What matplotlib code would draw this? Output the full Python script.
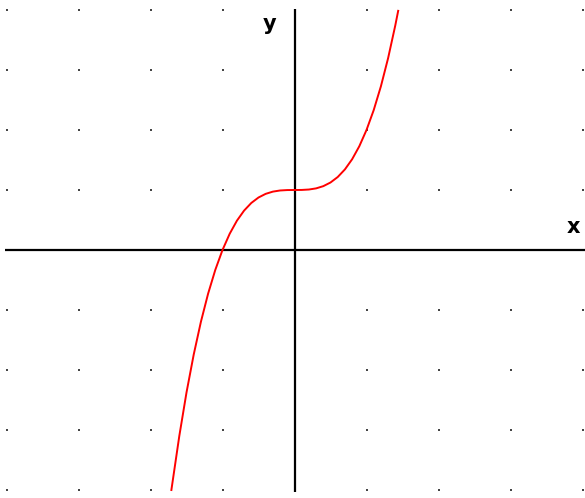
import matplotlib
matplotlib.use("Agg")
import matplotlib.pyplot as plt
import numpy as np

# points
curve_x = [-1.71, -1.6, -1.5, -1.4, -1.3, -1.2, -1.1, -1.0, -0.9, -0.8, -0.7,
           -0.6, -0.5, -0.4, -0.3, -0.2, -0.1, 0.0, 0.1, 0.2, 0.3, 0.4, 0.5,
           0.6, 0.7, 0.8, 0.9, 1.0, 1.1, 1.2, 1.3, 1.4, 1.44]
curve_y = [-4.0, -3.1, -2.375, -1.744, -1.197, -0.728, -0.331, 0.0, 0.271,
           0.488, 0.657, 0.784, 0.875, 0.936, 0.973, 0.992, 0.999, 1.0, 1.001,
           1.008, 1.027, 1.064, 1.125, 1.216, 1.343, 1.512, 1.729, 2.0, 2.331,
           2.728, 3.197, 3.744, 3.986]

# dot grid
grid_x = [-4, -3, -2, -1, 0, 1, 2, 3, 4]
grid_y = [-4, -3, -2, -1, 0, 1, 2, 3, 4]

fig = plt.figure(figsize=(5.85, 4.98), dpi=100)
ax = fig.add_axes([0, 0, 1, 1])  # axes fill the whole picture
ax.set_xlim(-294.5 / 72, 290.5 / 72)
ax.set_ylim(-248 / 60, 250 / 60)
ax.axis('off')

gx, gy = np.meshgrid(grid_x, grid_y)
gx, gy = gx.ravel(), gy.ravel()
keep = (gx != 0) & (gy != 0)
ax.scatter(gx[keep], gy[keep], s=4, marker='s', color='#444444', linewidths=0)

# coordinate axes
ax.hlines(0, -4.02, 4.2, color='black', linewidth=1.6)
ax.vlines(0, -4.03, 4.02, color='black', linewidth=1.6)

ax.plot(curve_x, curve_y, color='red', linewidth=1.4)

ax.text(-0.35, 3.77, 'y', fontsize=15, fontweight='bold', ha='center', va='center')
ax.text(3.87, 0.38, 'x', fontsize=15, fontweight='bold', ha='center', va='center')

fig.savefig('out.png', dpi=100)
